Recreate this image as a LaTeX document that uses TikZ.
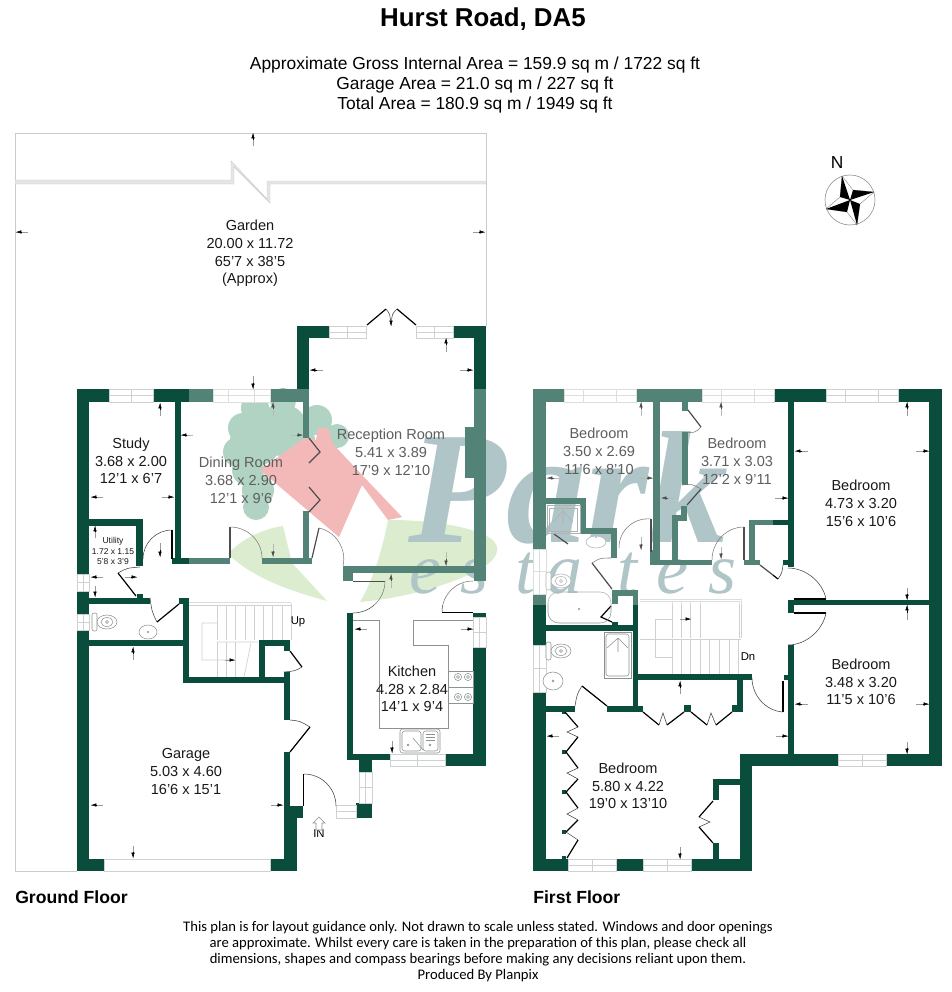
\documentclass[tikz,border=0pt]{standalone}
\usepackage{fontspec}
\setmainfont{Liberation Sans}
\newfontfamily\footfont{Carlito}
\newfontfamily\logofont{Liberation Serif}
\usetikzlibrary{arrows.meta,calc}
\definecolor{wallc}{RGB}{10,77,60}
\definecolor{winc}{RGB}{205,209,209}
\definecolor{thinc}{RGB}{140,145,145}
\definecolor{gardc}{RGB}{200,204,204}
\definecolor{logopink}{RGB}{238,155,156}
\definecolor{logotree}{RGB}{142,193,171}
\definecolor{logolime}{RGB}{205,230,187}
\definecolor{logopark}{RGB}{141,172,176}
\tikzset{
  wallfill/.style={fill=wallc},
  winline/.style={draw=winc,line width=.5pt,fill=white},
  leaf/.style={draw=black,line width=.9pt},
  arcline/.style={draw=black!75,line width=.4pt},
  fixture/.style={draw=thinc,line width=.4pt},
  stairline/.style={draw=winc,line width=.5pt},
  tailline/.style={draw=black!40,line width=.4pt},
  headline/.style={draw=black,line width=.4pt,-{Latex[length=4pt,width=2.6pt]}},
  roomtxt/.style={align=center,text=black!90,font=\fontsize{10.9}{13.3}\selectfont,inner sep=0pt},
  smalltxt/.style={align=center,text=black!90,font=\fontsize{6.4}{7.9}\selectfont,inner sep=0pt},
}
\newcommand{\wl}[4]{\fill[wallfill] (#1,#2) rectangle (#3,#4);}
\newcommand{\hwin}[4]{\path[winline] (#1,#2) rectangle (#3,#4);
  \draw[winline] (#1,{(#2+#4)/2}) -- (#3,{(#2+#4)/2}) ({(#1+#3)/2},#2) -- ({(#1+#3)/2},#4);}
\newcommand{\wwin}[4]{\path[winline] (#1,#2) rectangle (#3,#4);
  \draw[winline] (#1,{(#2+#4)/2}) -- (#3,{(#2+#4)/2}) ({#1+.27*(#3-#1)},#2) -- ({#1+.27*(#3-#1)},#4) ({#1+.73*(#3-#1)},#2) -- ({#1+.73*(#3-#1)},#4);}
\newcommand{\vwin}[4]{\path[winline] (#1,#2) rectangle (#3,#4);
  \draw[winline] ({(#1+#3)/2},#2) -- ({(#1+#3)/2},#4) (#1,{(#2+#4)/2}) -- (#3,{(#2+#4)/2});}
\newcommand{\darc}[6]{\draw[arcline] (#3,#4) .. controls ({#3+.552*(#5-#1)},{#4+.552*(#6-#2)}) and ({#5+.552*(#3-#1)},{#6+.552*(#4-#2)}) .. (#5,#6);}
\newcommand{\dimar}[4]{\draw[tailline] (#3,#4) -- (#1,#2);
  \draw[headline] ({#1+.5*(#3-#1)},{#2+.5*(#4-#2)}) -- (#1,#2);}
\newcommand{\toilet}[2]{\begin{scope}[shift={(#1,#2)}]
  \draw[fixture,rounded corners=1.5pt,fill=white] (-14,-9) rectangle (-9,9);
  \draw[fixture,fill=white] (1,0) ellipse (10 and 7);
  \draw[fixture] (1,0) ellipse (6 and 4.5);
  \draw[fixture] (1,0) circle (1.5);
  \end{scope}}
\begin{document}
\begin{tikzpicture}[x=.75pt,y=-.75pt]
\useasboundingbox (0,0) rectangle (952,992);
\fill[white] (0,0) rectangle (952,992);

% --------- watermark logo (under the plan)
\fill[logolime] (228,554) .. controls (240,540) and (262,529) .. (283,526) -- (292,563) -- (327,601) .. controls (295,592) and (255,580) .. (228,554) -- cycle;
\fill[logolime] (360,602) .. controls (372,582) and (382,552) .. (388,520) .. controls (430,520) and (470,526) .. (490,538) .. controls (505,548) and (495,562) .. (478,570) .. controls (450,585) and (405,598) .. (360,602) -- cycle;
\fill[logotree] (255,408) circle (14) (283,401) circle (13) (243,428) circle (15) (238,452) circle (15) (256,440) circle (26) (282,430) circle (26) (317,420) circle (15) (337,436) circle (12) (258,490) circle (16) (256,507) circle (13) (248,470) circle (16) (300,440) circle (15);
\fill[logopink] (260,470) -- (306,437) -- (316,440) -- (318,428) -- (328,428) -- (333,444) -- (363,476) -- (402,517) -- (388,520) -- (362,485) -- (339,537) -- cycle;
\node (logopark) [inner sep=0pt,anchor=base west,text=logopark,font={\logofont\bfseries\itshape\fontsize{120}{120}\selectfont}] at (408,542) {Park};
\foreach \n/\lx/\ch in {e1/425/e,s1/475/s,t1/525/t,a1/564/a,t2/627/t,e2/672/e,s2/722/s}{
  \node (logo\n) [inner sep=0pt,anchor=base,text=logopark,font={\logofont\itshape\fontsize{54}{54}\selectfont}] at (\lx,593) {\ch};
}

% --------- garden
\draw[draw=gardc,line width=.7pt] (77,871) -- (15,871) -- (15,133) -- (486,133) -- (486,326);
\path[draw=gardc,fill=black!10,line width=.3pt] (15,180) -- (231,180) -- (231,161) -- (267,199) -- (267,181) -- (486,181) -- (486,184) -- (270,184) -- (270,203) -- (234,167) -- (234,184) -- (15,184) -- cycle;

% --------- ground floor walls
\wl{77}{389}{89}{574}\wl{77}{591}{89}{614}\wl{77}{630}{89}{871}
\wl{77}{389}{109}{402}\wl{153}{389}{213}{402}\wl{270}{389}{309}{402}
\wl{297}{326}{309}{402}\wl{297}{326}{329}{338}\wl{453}{326}{486}{338}
\wl{303}{402}{309}{438}\wl{303}{511}{309}{564}
\wl{474}{326}{486}{581}\wl{465}{427}{474}{478}
\wl{343}{566}{474}{573}\wl{343}{573}{353}{581}
\wl{175}{402}{181}{564}\wl{172}{558}{230}{564}\wl{262}{558}{312}{564}
\wl{89}{519}{143}{526}\wl{136}{519}{143}{566}
\wl{89}{598}{150}{604}\wl{137}{594}{143}{598}
\wl{179}{598}{189}{604}\wl{183}{598}{189}{683}
\wl{89}{640}{189}{646}
\wl{183}{677}{290}{683}\wl{259}{640}{265}{683}\wl{259}{640}{290}{646}\wl{284}{640}{290}{651}
\wl{284}{672}{290}{720}\wl{284}{752}{290}{806}
\wl{284}{806}{297}{871}\wl{290}{806}{303}{818}
\wl{77}{859}{104}{871}\wl{270}{859}{297}{871}
\wl{347}{613}{353}{760}\wl{347}{754}{390}{760}\wl{359}{760}{372}{772}\wl{356}{803}{372}{818}
\wl{445}{754}{486}{766}\wl{473}{647}{486}{766}\wl{473}{613}{486}{617}

% windows ground
\hwin{109}{389}{153}{402}\wwin{213}{389}{270}{402}
\hwin{329}{326}{366}{338}\hwin{416}{326}{453}{338}
\vwin{77}{574}{89}{591}\vwin{77}{614}{89}{630}
\draw[winline] (104,859) rectangle (270,871);
\hwin{390}{754}{445}{766}\vwin{473}{617}{486}{647}
\vwin{359}{772}{372}{803}
\draw[winline] (336,805) rectangle (356,818) (336,811.5) -- (356,811.5);

% doors ground
\draw[leaf] (367,325) -- (386,309) (397,309) -- (416,325);
\draw[arcline] (386,309) .. controls (390,314) .. (391,325) .. controls (392,314) .. (397,309);
\draw[leaf] (309,438) -- (320,452) -- (309,463) (309,487) -- (320,500) -- (309,512);
\draw[leaf] (172,530) -- (172,559); \darc{172}{559}{172}{530}{143}{559}
\draw[leaf] (230,527) -- (230,558); \darc{230}{558}{230}{527}{262}{558}
\draw[leaf] (312,558) -- (319,528); \darc{312}{559}{319}{528}{343}{566}
\draw[leaf] (118,573) -- (136,596); \draw[arcline] (118,573) .. controls (127,568) .. (140,567);
\draw[leaf] (157,622) -- (179,604); \draw[arcline] (150,598) .. controls (152,612) .. (157,622);
\draw[leaf] (353,581.5) -- (385,581.5); \darc{353}{581}{385}{581}{353}{613}
\draw[leaf] (442,612.5) -- (473,612.5); \darc{473}{612}{442}{612}{473}{581}
\draw[leaf] (290,651) -- (302,667); \draw[arcline] (302,667) .. controls (295,671) .. (284,672);
\draw[leaf] (290,752) -- (310,727); \draw[arcline] (290,720) .. controls (300,721) .. (310,727);
\draw[leaf] (303.5,774) -- (303.5,806); \darc{304}{806}{304}{774}{336}{806}

% stairs ground
\draw[stairline] (189,602.5) -- (291,602.5) (189,605) -- (291,605) (291,602.5) -- (291,640);
\foreach \sx in {217,226,235,245,254,263,272,282}{\draw[stairline] (\sx,605) -- (\sx,640);}
\foreach \sx in {217,226,235}{\draw[stairline] (\sx,642) -- (\sx,677);}
\draw[stairline] (202,623) -- (217,623) (202,623) -- (202,660) -- (235,660) (217,642) -- (259,642) (251,643) -- (244,677);
\dimar{235}{660}{225}{660}

% kitchen
\draw[fixture] (353,620) -- (379,620) -- (379,728) -- (448,728) -- (448,645) -- (413,645) -- (413,620) -- (473,620);
\draw[fixture] (448,671) rectangle (473,703) (448,687) -- (473,687);
\foreach \hx/\hy in {458/677,468/677,458/697,468/697}{\draw[fixture] (\hx,\hy) circle (3.6) (\hx,\hy) circle (1.4);}
\draw[fixture,rounded corners=2pt] (400,729) rectangle (440,753);
\draw[fixture,rounded corners=2pt] (402,731) rectangle (421,751) (423,731) rectangle (438,751);
\foreach \ry in {734,737,740}{\draw[fixture] (426,\ry) -- (435,\ry);}
\draw[fixture] (413,738) -- (423,750) (408,745) circle (1) (430,745) circle (1);

% WC
\toilet{106}{622}
\draw[fixture,fill=white] (148,632) ellipse (9 and 7);
\draw[fixture] (148,632) circle (.7);

% ground dims
\dimar{253}{133}{253}{146}\dimar{16}{232}{28}{232}\dimar{485}{232}{473}{232}
\dimar{391}{326}{391}{318}
\dimar{160}{403}{160}{416}\dimar{91}{497}{103}{497}\dimar{174}{497}{162}{497}
\dimar{273}{402}{273}{416}\dimar{253}{389}{253}{376}\dimar{273}{557}{273}{544}\dimar{181}{435}{193}{435}\dimar{303}{435}{291}{435}
\dimar{160}{557}{160}{543}\dimar{95}{526}{95}{538}\dimar{95}{597}{95}{586}\dimar{91}{577}{103}{577}\dimar{137}{577}{125}{577}
\dimar{446}{338}{446}{352}\dimar{310}{370}{323}{370}\dimar{473}{370}{460}{370}\dimar{446}{566}{446}{552}\dimar{391}{574}{391}{588}
\dimar{355}{629}{367}{629}\dimar{473}{629}{461}{629}\dimar{392}{753}{392}{741}
\dimar{91}{805}{103}{805}\dimar{283}{805}{271}{805}\dimar{133}{647}{133}{660}\dimar{133}{858}{133}{846}

% --------- first floor walls
\wl{533}{389}{546}{549}\wl{533}{594}{546}{645}\wl{533}{692}{546}{871}
\wl{533}{389}{564}{402}\wl{636}{389}{702}{402}\wl{774}{389}{826}{402}\wl{898}{389}{942}{402}
\wl{929}{389}{942}{766}
\wl{653}{402}{660}{565}\wl{653}{560}{712}{565}\wl{650}{550}{654}{565}
\wl{744}{560}{760}{565}\wl{749}{520}{755}{560}\wl{749}{520}{794}{525}
\wl{788}{402}{794}{567}\wl{783}{560}{794}{565}
\wl{794}{600}{929}{605}\wl{788}{600}{794}{613}
\wl{788}{645}{794}{754}\wl{784}{675}{788}{680}
\wl{633}{592}{638}{707}\wl{612}{590}{638}{596}\wl{612}{590}{618}{604}
\wl{638}{674}{752}{680}
\wl{546}{706}{575}{712}\wl{607}{706}{643}{712}
\wl{737}{680}{743}{712}\wl{732}{705}{743}{712}\wl{684}{705}{691}{712}
\wl{740}{754}{838}{766}\wl{886}{754}{942}{766}\wl{740}{754}{752}{871}
\wl{533}{859}{568}{871}\wl{616}{859}{643}{871}\wl{691}{859}{752}{871}
\wl{713}{779}{740}{785}\wl{713}{779}{719}{800}\wl{713}{843}{719}{859}
\wl{546}{498}{586}{504}\wl{580}{498}{586}{533}\wl{580}{528}{617}{534}\wl{611}{528}{617}{558}
\wl{546}{625}{638}{631}\wl{612}{622}{618}{627}
\wl{682}{402}{688}{411}\wl{682}{432}{688}{485}\wl{681}{506}{687}{515}\wl{672}{515}{687}{521}\wl{672}{515}{678}{560}
\foreach \wx/\wy in {562/710,562/750,562/790,562/830,562/856}{\fill[wallfill] (\wx,\wy) rectangle ++(4,4);}

% windows first
\wwin{564}{389}{636}{402}\wwin{702}{389}{774}{402}\wwin{826}{389}{898}{402}
\vwin{533}{549}{546}{594}\vwin{533}{645}{546}{692}
\hwin{838}{754}{886}{766}\hwin{568}{859}{616}{871}\hwin{643}{859}{691}{871}

% doors first
\draw[leaf] (651,519) -- (651,552); \darc{651}{551}{651}{519}{619}{548}
\draw[leaf] (592,563) -- (612,589); \draw[arcline] (592,563) .. controls (600,558) .. (611,558);
\draw[leaf] (744,527) -- (744,560); \darc{744}{560}{744}{527}{712}{560}
\draw[leaf] (760,565) -- (778,579); \draw[arcline] (778,579) .. controls (782,573) .. (783,565);
\draw[leaf] (794,599) -- (826,599); \darc{794}{599}{826}{599}{788}{568}
\draw[leaf] (794,613) -- (826,613); \darc{794}{613}{826}{613}{788}{645}
\draw[leaf] (783,681) -- (783,712); \darc{783}{680}{783}{712}{752}{678}
\draw[leaf] (607,706) -- (582,686); \draw[arcline] (582,686) .. controls (577,694) .. (575,706);
\draw[leaf] (688,410) -- (701,427); \draw[arcline] (701,427) .. controls (695,433) .. (682,432);
\draw[leaf] (701,489) -- (687,505); \draw[arcline] (682,485) .. controls (692,484) .. (701,489);
\draw[leaf] (611,606) -- (601,617) -- (612,622);
\draw[leaf] (554,534) -- (568,544);
% closet bifolds
\draw[leaf] (643,712) -- (659,725) (667,725) -- (684,712) (691,712) -- (707,725) (716,725) -- (732,712);
\draw[arcline] (659,725) -- (663,713) -- (667,725) (707,725) -- (711,713) -- (716,725);
% wardrobe
\draw[leaf] (565,712) -- (578,727) (578,737) -- (566,752) -- (578,768) (578,779) -- (566,792) -- (578,808) (578,820) -- (566,832) (578,840) -- (567,858);
\draw[arcline] (578,727) -- (567,732) -- (578,737) (578,768) -- (567,773) -- (578,779) (578,808) -- (567,814) -- (578,820) (566,832) -- (578,840);
\draw[leaf] (713,801) -- (699,817) (699,827) -- (713,843);
\draw[arcline] (699,817) -- (710,822) -- (699,827);

% fixtures first
\draw[fixture] (547,505) rectangle (580,533);
\draw[fixture] (549,508) rectangle (577,531);
\draw[fixture] (563,511) -- (553,522) (563,511) -- (573,522) (563,511) -- (563,524);
\draw[fixture,fill=white] (596,542) ellipse (10 and 6);
\draw[fixture] (596,537) circle (.7);
\toilet{560}{581}
\draw[fixture,rounded corners=8pt] (548,592) rectangle (611,623);
\draw[fixture] (579,609) circle (.7);
\toilet{560}{651}
\draw[fixture,fill=white] (553,681) ellipse (10 and 9);
\draw[fixture] (553,681) circle (1);
\draw[fixture] (604,632) rectangle (631,678);
\draw[fixture,rounded corners=2pt] (606,634) rectangle (629,676);
\draw[fixture] (618,638) -- (607,648) (618,638) -- (628,648) (618,638) -- (618,652);

% stairs first
\draw[stairline] (640,599) -- (741,599) (640,601) -- (739,601) (741,599) -- (741,638) (739,601) -- (739,638);
\foreach \sx in {672,681,690,700}{\draw[stairline] (\sx,601) -- (\sx,638);}
\draw[stairline] (655,619) -- (672,619) (640,639) -- (741,639) (655,619) -- (655,657) -- (672,657);
\foreach \sx in {672,681,690,700,709,719,729,738}{\draw[stairline] (\sx,639) -- (\sx,674);}
\dimar{691}{619}{680}{619}

% first dims
\dimar{641}{402}{641}{416}\dimar{547}{478}{560}{478}\dimar{653}{478}{640}{478}\dimar{641}{550}{641}{537}
\dimar{721}{402}{721}{416}\dimar{721}{559}{721}{547}\dimar{661}{498}{674}{498}\dimar{788}{498}{775}{498}
\dimar{907}{402}{907}{416}\dimar{795}{451}{808}{451}\dimar{929}{451}{916}{451}\dimar{907}{600}{907}{588}
\dimar{907}{605}{907}{620}\dimar{795}{704}{808}{704}\dimar{929}{704}{916}{704}\dimar{907}{754}{907}{742}
\dimar{547}{736}{559}{736}\dimar{788}{736}{776}{736}\dimar{680}{681}{680}{694}\dimar{680}{859}{680}{847}

% --------- labels
\node (lgarden) [roomtxt] at (250,253.5) {Garden\\20.00 x 11.72\\65'7 x 38'5\\(Approx)};
\node (lstudy) [roomtxt] at (131,461) {Study\\3.68 x 2.00\\12'1 x 6'7};
\node (ldining) [roomtxt] at (241,480.5) {Dining Room\\3.68 x 2.90\\12'1 x 9'6};
\node (lrecep) [roomtxt] at (391,452.5) {Reception Room\\5.41 x 3.89\\17'9 x 12'10};
\node (lutil) [smalltxt] at (113,551) {Utility\\1.72 x 1.15\\5'8 x 3'9};
\node (lkitchen) [roomtxt] at (412,689) {Kitchen\\4.28 x 2.84\\14'1 x 9'4};
\node (lgarage) [roomtxt] at (186,771.5) {Garage\\5.03 x 4.60\\16'6 x 15'1};
\node (lbed1) [roomtxt] at (599,451.5) {Bedroom\\3.50 x 2.69\\11'6 x 8'10};
\node (lbed2) [roomtxt] at (737,461.5) {Bedroom\\3.71 x 3.03\\12'2 x 9'11};
\node (lbed3) [roomtxt] at (861,503.5) {Bedroom\\4.73 x 3.20\\15'6 x 10'6};
\node (lbed4) [roomtxt] at (861,682) {Bedroom\\3.48 x 3.20\\11'5 x 10'6};
\node (lbed5) [roomtxt] at (628,786) {Bedroom\\5.80 x 4.22\\19'0 x 13'10};
\node (lup) [inner sep=0pt,font=\fontsize{8.5}{10}\selectfont] at (298,622) {Up};
\node (ldn) [inner sep=0pt,font=\fontsize{8.5}{10}\selectfont] at (748,657) {Dn};
\node (lin) [inner sep=0pt,font=\fontsize{8.5}{10}\selectfont] at (319,834) {IN};
\draw[fixture,fill=white] (319,817) -- (325,823) -- (322,823) -- (322,830) -- (316,830) -- (316,823) -- (313,823) -- cycle;

% --------- lightening veil of the watermark
\fill[white,opacity=.3] (189,389) rectangle (773,605);

% --------- headings
\node (title) [inner sep=0pt,font=\bfseries\fontsize{19.4}{22}\selectfont] at (483,19) {Hurst Road, DA5};
\node (area) [inner sep=0pt,align=center,font=\fontsize{13.05}{15}\selectfont] at (475,85) {Approximate Gross Internal Area = 159.9 sq m / 1722 sq ft\\Garage Area = 21.0 sq m / 227 sq ft\\Total Area = 180.9 sq m / 1949 sq ft};
\node (gfloor) [inner sep=0pt,anchor=west,font=\bfseries\fontsize{13.2}{15}\selectfont] at (15,897) {Ground Floor};
\node (ffloor) [inner sep=0pt,anchor=west,font=\bfseries\fontsize{13.2}{15}\selectfont] at (533,897) {First Floor};
\node (foot) [inner sep=0pt,align=center,font={\footfont\fontsize{10.98}{12}\selectfont}] at (478,952) {This plan is for layout guidance only. Not drawn to scale unless stated. Windows and door openings\\are approximate. Whilst every care is taken in the preparation of this plan, please check all\\dimensions, shapes and compass bearings before making any decisions reliant upon them.\\Produced By Planpix};

% --------- compass
\node (north) [inner sep=0pt,font=\fontsize{13}{15}\selectfont] at (837,163) {N};
\coordinate (cc) at (850,200);
\coordinate (pt) at (842,176);\coordinate (pr) at (874,192);\coordinate (pb) at (857,225);\coordinate (pl) at (826,209);
\coordinate (ine) at (853,190);\coordinate (ise) at (860,204);\coordinate (isw) at (847,212);\coordinate (inw) at (840,197);
\draw[draw=black!40,line width=.5pt] (cc) circle (25);
\draw[draw=black!50,line width=.3pt] (pt) -- (ine) -- (pr) -- (ise) -- (pb) -- (isw) -- (pl) -- (inw) -- cycle;
\fill[black] (pt) -- (inw) -- (cc) -- cycle (pr) -- (ine) -- (cc) -- cycle (pb) -- (ise) -- (cc) -- cycle (pl) -- (isw) -- (cc) -- cycle;
\end{tikzpicture}
\end{document}
